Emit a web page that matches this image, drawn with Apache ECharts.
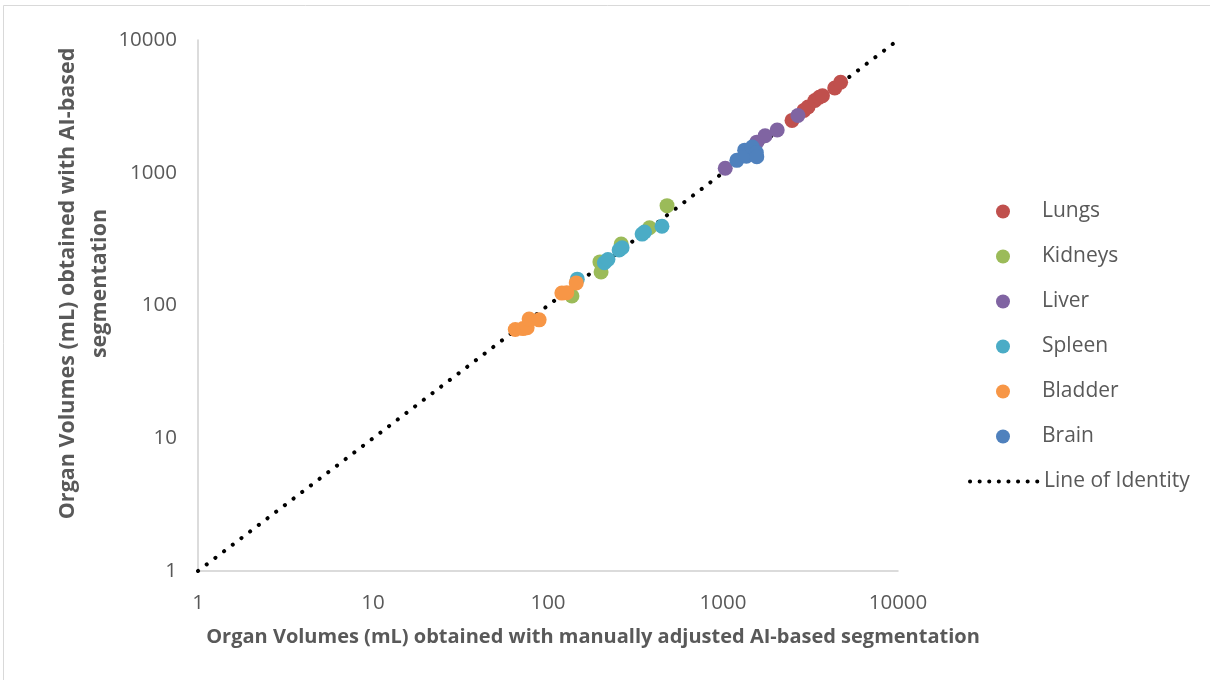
<!DOCTYPE html>
<html><head><meta charset="utf-8">
<script src="https://cdn.jsdelivr.net/npm/echarts@6/dist/echarts.min.js"></script>
<style>html,body{margin:0;padding:0;background:#fff}#c{width:1210px;height:680px}</style>
</head><body><div id="c"></div>
<script>
var seriesNames = ['Lungs','Kidneys','Liver','Spleen','Bladder','Brain'];
var colors = ['#C0504D','#9BBB59','#8064A2','#4BACC6','#F79646','#4F81BD'];
var lungs = [[2480,2480],[2900,2950],[3060,3130],[3350,3500],[3550,3700],[3700,3800],[4350,4350],[4700,4800]];
var kidneys = [[137,118],[198,213],[201,179],[262,290],[380,385],[479,565]];
var liver = [[1030,1080],[1480,1500],[1560,1700],[1740,1900],[2040,2100],[2680,2700]];
var spleen = [[147,158],[210,210],[220,222],[255,262],[265,272],[345,345],[356,358],[448,395]];
var bladder = [[65,66],[72,67],[76,68],[78,79],[89,78],[120,124],[128,125],[145,148]];
var brain = [[1200,1240],[1330,1480],[1360,1330],[1470,1560],[1550,1420],[1560,1320]];
var identity = [[1,1],[10000,10000]];
var tickLabels = ['1','10','100','1000','10000'];
var allData = [lungs,kidneys,liver,spleen,bladder,brain];

var font = 'Open Sans';
var fmt = function(v){ var s = String(Math.round(v)); return tickLabels.indexOf(s) >= 0 ? s : ''; };
var series = seriesNames.map(function(n,i){
  return {name:n,type:'scatter',data:allData[i],symbol:'circle',symbolSize:15,
    itemStyle:{color:colors[i],opacity:1},z:3};
});
var dotStyle = {color:'#000',width:4,type:[0.1,10.8],cap:'round'};
series.unshift({name:'Line of Identity',type:'line',data:identity,symbol:'none',z:2,
  itemStyle:{color:'#000'},lineStyle:dotStyle});

var chart = echarts.init(document.getElementById('c'));
chart.setOption({
  animation:false,
  backgroundColor:'#fff',
  grid:{left:198,right:312,top:40,bottom:109},
  xAxis:{type:'log',logBase:10,min:1,max:10000,
    axisLine:{lineStyle:{color:'#d0d0d0',width:1.5}},axisTick:{show:false},splitLine:{show:false},
    axisLabel:{color:'#595959',fontSize:20.5,fontFamily:font,margin:22,formatter:fmt},
    name:'Organ Volumes (mL) obtained with manually adjusted AI-based segmentation',
    nameLocation:'middle',nameGap:56,nameMoveOverlap:false,
    nameTextStyle:{color:'#595959',fontSize:20,fontWeight:'bold',fontFamily:font,padding:[0,0,0,90]}},
  yAxis:{type:'log',logBase:10,min:1,max:10000,
    axisLine:{show:true,lineStyle:{color:'#d0d0d0',width:1.5}},axisTick:{show:false},splitLine:{show:false},
    axisLabel:{color:'#595959',fontSize:20.5,fontFamily:font,margin:21,formatter:fmt},
    name:'Organ Volumes (mL) obtained with AI-based\nsegmentation',
    nameLocation:'middle',nameGap:82,nameMoveOverlap:false,
    nameTextStyle:{color:'#595959',fontSize:21.5,fontWeight:'bold',fontFamily:font,lineHeight:32,padding:[0,0,0,44]}},
  legend:[{data:seriesNames,orient:'vertical',left:991,top:196,itemWidth:14,itemHeight:14,itemGap:24,
    icon:'circle',textStyle:{color:'#595959',fontSize:21,fontFamily:font,padding:[0,0,0,27]}},
    {data:[{name:'Line of Identity',itemStyle:{opacity:0}}],orient:'vertical',left:963,top:466,itemWidth:70,itemHeight:14,itemGap:0,
    itemStyle:{opacity:0},
    lineStyle:{color:'#000',width:4,type:[0.1,9.5],cap:'round'},
    textStyle:{color:'#595959',fontSize:21,fontFamily:font,padding:[0,0,0,-1]}}],
  graphic:[{type:'rect',shape:{x:3.5,y:5.5,width:1220,height:690},style:{fill:null,stroke:'#d9d9d9',lineWidth:1}}],
  series:series
});
</script></body></html>
